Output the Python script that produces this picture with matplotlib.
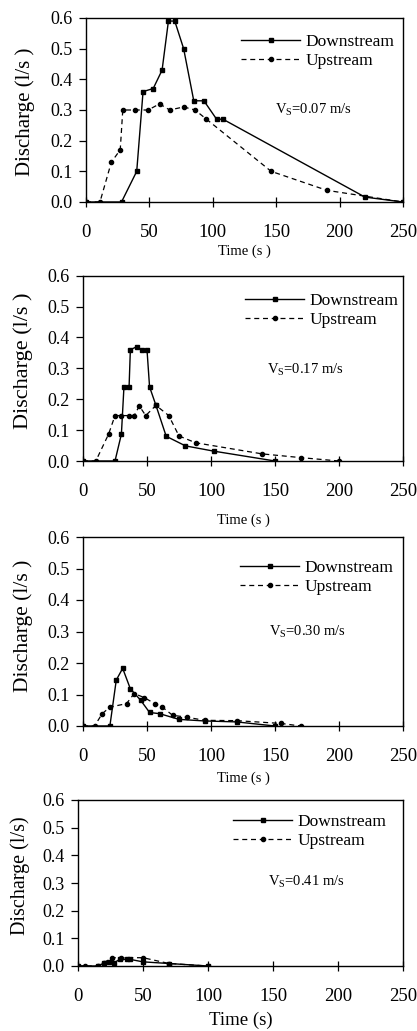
import numpy as np
import matplotlib
matplotlib.use("Agg")
import matplotlib.pyplot as plt

plt.rcParams["font.family"] = ["Liberation Serif", "DejaVu Serif"]
plt.rcParams["mathtext.fontset"] = "custom"
plt.rcParams["mathtext.rm"] = "Liberation Serif"
plt.rcParams["mathtext.it"] = "Liberation Serif"

# ── data ──────────────────────────────────────────────────────
# Vs = 0.07 m/s
t1_down = [0, 28, 40, 45, 53, 60, 65, 70, 77, 85, 93, 103, 108, 220, 250]
q1_down = [0, 0, 0.10, 0.36, 0.37, 0.43, 0.59, 0.59, 0.50, 0.33, 0.33, 0.27, 0.27, 0.016, 0]
t1_up = [0, 11, 20, 27, 29, 39, 49, 58, 66, 77, 86, 95, 146, 190, 250]
q1_up = [0, 0, 0.13, 0.17, 0.30, 0.30, 0.30, 0.32, 0.30, 0.31, 0.30, 0.27, 0.10, 0.038, 0]

# Vs = 0.17 m/s
t2_down = [0, 25, 30, 32, 36, 37, 42, 46, 50, 52, 57, 65, 80, 102, 150]
q2_down = [0, 0, 0.087, 0.24, 0.24, 0.36, 0.37, 0.36, 0.36, 0.24, 0.18, 0.08, 0.049, 0.032, 0]
t2_up = [0, 10, 20, 25, 30, 36, 40, 44, 49, 57, 67, 75, 88, 140, 170, 200]
q2_up = [0, 0, 0.087, 0.147, 0.147, 0.147, 0.147, 0.178, 0.147, 0.18, 0.147, 0.081, 0.059, 0.023, 0.011, 0]

# Vs = 0.30 m/s
t3_down = [0, 21, 26, 31, 37, 45, 52, 60, 75, 95, 120, 150]
q3_down = [0, 0, 0.146, 0.183, 0.118, 0.082, 0.043, 0.039, 0.021, 0.016, 0.013, 0]
t3_up = [0, 9, 15, 21, 34, 40, 48, 56, 62, 70, 81, 95, 120, 155, 170]
q3_up = [0, 0, 0.039, 0.060, 0.071, 0.103, 0.090, 0.071, 0.060, 0.034, 0.028, 0.018, 0.017, 0.008, 0]

# Vs = 0.41 m/s
t4_down = [0, 15, 20, 24, 28, 32, 38, 40, 50, 70, 100]
q4_down = [0, 0, 0.010, 0.015, 0.012, 0.024, 0.024, 0.024, 0.015, 0.009, 0]
t4_up = [0, 5, 15, 20, 26, 33, 50, 70, 100]
q4_up = [0, 0, 0, 0.012, 0.030, 0.030, 0.030, 0.009, 0]

speeds = ["0.07", "0.17", "0.30", "0.41"]
xlabels = ["Time (s )", "Time (s )", "Time (s )", "Time (s)"]
ylabels = ["Discharge (l/s )", "Discharge (l/s )", "Discharge (l/s )", "Discharge (l/s)"]

W, H = 417, 1031
# layout in pixels
boxes = [(86, 403, 18, 202), (83, 403, 275.6, 461), (83, 403, 537, 726), (78, 403, 800, 966)]
leg_xy = [(241, 34), (245, 293), (240, 560), (233, 814)]
vs_xy = [(275, 110), (267, 370), (269, 632), (268, 882)]
xlab_y = [251, 520, 778, 1020]
xlab_fs = [10.5, 10.5, 10.5, 13.5]
ylab_xy = [(25, 112), (23, 361), (23, 626), (20, 876)]
ylab_fs = [15, 16, 15.5, 14.5]

fig = plt.figure(figsize=(W / 100, H / 100), dpi=100)

series = [(t1_down, q1_down, t1_up, q1_up),
          (t2_down, q2_down, t2_up, q2_up),
          (t3_down, q3_down, t3_up, q3_up),
          (t4_down, q4_down, t4_up, q4_up)]

for i, (td, qd, tu, qu) in enumerate(series):
    l, r, t, b = boxes[i]
    ax = fig.add_axes([l / W, 1 - b / H, (r - l) / W, (b - t) / H])
    ax.plot(td, qd, "-", color="black", lw=1.0, marker="s", ms=3.5, label="Downstream")
    ax.plot(tu, qu, "--", color="black", lw=0.9, marker="o", ms=3.0, dashes=(4, 3),
            label="Upstream")
    ax.set_xlim(0, 250)
    ax.set_ylim(0, 0.6)
    ax.set_xticks(np.arange(0, 251, 50))
    ax.set_yticks(np.arange(0, 0.61, 0.1))
    ax.yaxis.set_major_formatter(plt.FormatStrFormatter("%.1f"))
    ax.tick_params(axis="x", direction="inout", length=7, width=0.9, labelsize=13.5, pad=12)
    ax.tick_params(axis="y", direction="out", length=5, width=0.9, labelsize=13, pad=4.5)
    for s in ax.spines.values():
        s.set_linewidth(1.0)
    ax.legend(loc="upper left", bbox_to_anchor=(leg_xy[i][0] / W, 1 - leg_xy[i][1] / H),
              bbox_transform=fig.transFigure, frameon=False, fontsize=12.5,
              handlelength=3.4, handletextpad=0.3, labelspacing=0.15, borderpad=0,
              borderaxespad=0, numpoints=1)
    vx, vy = vs_xy[i]
    fig.text(vx / W, 1 - vy / H, "V$_S$=" + speeds[i] + " m/s", fontsize=10.5,
             ha="left", va="center")
    # axis titles
    fig.text((l + r) / 2 / W, 1 - xlab_y[i] / H, xlabels[i], fontsize=xlab_fs[i],
             ha="center", va="center")
    fig.text(ylab_xy[i][0] / W, 1 - ylab_xy[i][1] / H, ylabels[i], fontsize=ylab_fs[i],
             rotation=90, ha="center", va="center")

fig.savefig("out.png", dpi=100)
